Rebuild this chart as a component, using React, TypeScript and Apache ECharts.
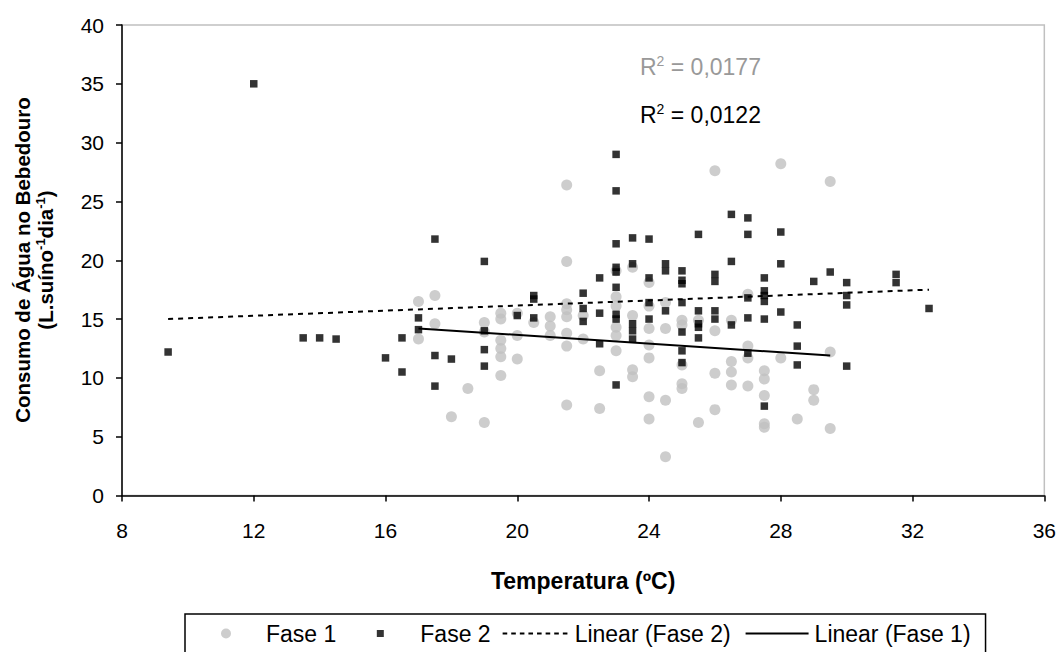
import React, { useEffect, useRef } from "react";
import * as echarts from "echarts";

// ---- data ----
const fase1Points: number[][] = [
  [17, 16.5], [17.5, 17.0], [17.5, 14.6], [17, 13.3], [19, 14.7], [19, 13.9], [19.5, 15.5], [19.5, 15.0],
  [19.5, 13.2], [19.5, 12.5], [19.5, 11.8], [19.5, 10.2], [20, 15.5], [20, 13.6], [20, 11.6], [18.5, 9.1],
  [18, 6.7], [19, 6.2], [20.5, 14.7], [21, 15.2], [21, 14.4], [21, 13.6], [21.5, 26.4], [21.5, 19.9],
  [21.5, 16.3], [21.5, 15.8], [21.5, 15.2], [21.5, 13.8], [21.5, 12.7], [21.5, 7.7], [22, 15.3], [22, 13.3],
  [22.5, 10.6], [22.5, 7.4], [23, 19.1], [23, 16.9], [23, 16.1], [23, 14.3], [23, 13.6], [23, 12.3],
  [23.5, 19.4], [23.5, 15.3], [23.5, 10.7], [23.5, 10.1], [24, 18.1], [24, 16.1], [24, 14.2], [24, 12.8],
  [24, 11.7], [24, 8.4], [24, 6.5], [24.5, 16.4], [24.5, 14.2], [24.5, 8.1], [24.5, 3.3], [25, 14.9],
  [25, 14.5], [25, 11.1], [25, 9.5], [25, 9.1], [25.5, 14.9], [25.5, 6.2], [26, 27.6], [26, 14.0],
  [26, 10.4], [26, 7.3], [26.5, 14.9], [26.5, 11.4], [26.5, 10.5], [26.5, 9.4], [27, 17.1], [27, 12.7],
  [27, 11.7], [27, 9.3], [27.5, 10.6], [27.5, 9.9], [27.5, 8.5], [27.5, 6.1], [27.5, 5.8], [28, 28.2],
  [28, 11.7], [28.5, 6.5], [29, 9.0], [29, 8.1], [29.5, 26.7], [29.5, 12.2], [29.5, 5.7],
];

const fase2Points: number[][] = [
  [9.4, 12.2], [12, 35.0], [13.5, 13.4], [14, 13.4], [14.5, 13.3], [16, 11.7], [16.5, 13.4], [16.5, 10.5],
  [17, 15.1], [17, 14.1], [17.5, 21.8], [17.5, 11.9], [17.5, 9.3], [18, 11.6], [19, 19.9], [19, 14.0],
  [19, 12.4], [19, 11.0], [20, 15.3], [20.5, 17.0], [20.5, 16.7], [20.5, 15.1], [22, 17.2], [22, 15.9],
  [22, 14.8], [22.5, 18.5], [22.5, 15.5], [22.5, 12.9], [23, 29.0], [23, 25.9], [23, 21.4], [23, 19.4],
  [23, 19.0], [23, 17.7], [23, 15.4], [23, 15.0], [23, 9.4], [23.5, 21.9], [23.5, 19.7], [23.5, 14.6],
  [23.5, 14.0], [23.5, 13.3], [24, 21.8], [24, 18.5], [24, 16.4], [24, 15.0], [24.5, 19.7], [24.5, 19.1],
  [24.5, 15.7], [25, 19.1], [25, 18.3], [25, 18.0], [25, 16.4], [25, 13.9], [25, 12.3], [25, 11.3],
  [25.5, 22.2], [25.5, 15.7], [25.5, 14.6], [25.5, 14.3], [25.5, 13.4], [26, 18.8], [26, 18.2], [26, 15.7],
  [26, 15.0], [26.5, 23.9], [26.5, 19.9], [26.5, 14.5], [27, 23.6], [27, 22.2], [27, 16.8], [27, 15.1],
  [27, 12.1], [27.5, 18.5], [27.5, 17.4], [27.5, 17.0], [27.5, 16.5], [27.5, 15.0], [27.5, 7.6], [28, 22.4],
  [28, 19.7], [28, 15.6], [28.5, 14.5], [28.5, 12.7], [28.5, 11.1], [29, 18.2], [29.5, 19.0], [30, 18.1],
  [30, 17.0], [30, 16.2], [30, 11.0], [31.5, 18.8], [31.5, 18.1], [32.5, 15.9],
];

const trendFase2X = [9.4, 32.5];
const trendFase2Y = [15.0, 17.5];
const trendFase1X = [17, 29.5];
const trendFase1Y = [14.2, 11.9];

const seriesNames = ["Fase 1", "Fase 2", "Linear (Fase 2)", "Linear (Fase 1)"];
const r2Fase1 = "0,0177";
const r2Fase2 = "0,0122";

const xAxisRange = { min: 8, max: 36, interval: 4 };
const yAxisRange = { min: 0, max: 40, interval: 5 };

const xTitle = "Temperatura (ºC)";
const yTitleLine1 = "Consumo de Água no Bebedouro";

const FONT = "'Liberation Sans', Arial, Helvetica, sans-serif";

// legend icons (70 x 10 box, drawn 1:1)
const ICON_BOX = "M0,0M70,10";
const circleIcon = "path://" + ICON_BOX + "M30,5a5,5 0 1,0 10,0a5,5 0 1,0 -10,0z";
const squareIcon = "path://" + ICON_BOX + "M31.5,1.5h7v7h-7z";
const dashedIcon =
  "path://" +
  ICON_BOX +
  [0, 1, 2, 3, 4, 5, 6, 7].map((k) => "M" + (3 + k * 8.6).toFixed(2) + ",4.1h4.6v1.8h-4.6z").join("");
const solidIcon = "path://" + ICON_BOX + "M6,4.1h63v1.9h-63z";

export default function App() {
  const ref = useRef<HTMLDivElement>(null);

  useEffect(() => {
    if (!ref.current) return;
    const chart = echarts.init(ref.current, null, { renderer: "svg" });

    const toLine = (xs: number[], ys: number[]) => xs.map((x, i) => [x, ys[i]]);

    const option: any = {
      animation: false,
      backgroundColor: "#ffffff",
      textStyle: { fontFamily: FONT },
      grid: {
        left: 122,
        right: 13,
        top: 25,
        bottom: 156.5,
        show: true,
        borderColor: "#c0c0c0",
        borderWidth: 1.5,
        backgroundColor: "transparent",
      },
      xAxis: {
        type: "value",
        min: xAxisRange.min,
        max: xAxisRange.max,
        interval: xAxisRange.interval,
        name: xTitle,
        nameLocation: "middle",
        nameGap: 74,
        nameTextStyle: { fontSize: 23, fontWeight: "bold", color: "#000", fontFamily: FONT },
        axisLine: { show: true, onZero: false, lineStyle: { color: "#000", width: 1.5 } },
        axisTick: { show: true, inside: false, length: 6, lineStyle: { color: "#000", width: 1.5 } },
        axisLabel: { fontSize: 21, color: "#000", margin: 24, fontFamily: FONT },
        splitLine: { show: false },
      },
      yAxis: {
        type: "value",
        min: yAxisRange.min,
        max: yAxisRange.max,
        interval: yAxisRange.interval,
        axisLine: { show: true, onZero: false, lineStyle: { color: "#000", width: 1.5 } },
        axisTick: { show: true, inside: false, length: 6, lineStyle: { color: "#000", width: 1.5 } },
        axisLabel: { fontSize: 21, color: "#000", margin: 18, fontFamily: FONT },
        splitLine: { show: false },
      },
      legend: {
        left: 185,
        top: 614,
        orient: "horizontal",
        itemWidth: 70,
        itemHeight: 10,
        itemGap: 9,
        symbolKeepAspect: false,
        padding: [8, 15, 10, 6],
        borderColor: "#000",
        borderWidth: 1.5,
        textStyle: { fontSize: 23, color: "#000", fontFamily: FONT },
        data: [
          { name: seriesNames[0], icon: circleIcon, itemStyle: { color: "#c0c0c0", borderWidth: 0 } },
          { name: seriesNames[1], icon: squareIcon, itemStyle: { color: "#000000", borderWidth: 0 } },
          { name: seriesNames[2], icon: dashedIcon, itemStyle: { color: "#000000", borderWidth: 0 } },
          { name: seriesNames[3], icon: solidIcon, itemStyle: { color: "#000000", borderWidth: 0 } },
        ],
      },
      graphic: [
        {
          type: "text",
          x: 34,
          y: 260,
          rotation: Math.PI / 2,
          style: {
            text: "{b|" + yTitleLine1 + "}\n{b|(L.suíno}{s|-1}{b|dia}{s|-1}{b|)}",
            align: "center",
            verticalAlign: "middle",
            fill: "#000",
            rich: {
              b: { fontSize: 20.5, fontWeight: "bold", fontFamily: FONT, lineHeight: 23, verticalAlign: "middle", fill: "#000" },
              s: { fontSize: 13, fontWeight: "bold", fontFamily: FONT, lineHeight: 23, verticalAlign: "top", fill: "#000" },
            },
          },
        },
        {
          type: "text",
          x: 640,
          y: 67,
          style: {
            text: "{a|R}{s|2}{a| = " + r2Fase1 + "}",
            align: "left",
            verticalAlign: "middle",
            rich: {
              a: { fontSize: 23, fontFamily: FONT, fill: "#999999", lineHeight: 26, verticalAlign: "middle" },
              s: { fontSize: 14, fontFamily: FONT, fill: "#999999", lineHeight: 26, verticalAlign: "top" },
            },
          },
        },
        {
          type: "text",
          x: 640,
          y: 115,
          style: {
            text: "{a|R}{s|2}{a| = " + r2Fase2 + "}",
            align: "left",
            verticalAlign: "middle",
            rich: {
              a: { fontSize: 23, fontFamily: FONT, fill: "#000000", lineHeight: 26, verticalAlign: "middle" },
              s: { fontSize: 14, fontFamily: FONT, fill: "#000000", lineHeight: 26, verticalAlign: "top" },
            },
          },
        },
      ],
      series: [
        {
          name: seriesNames[0],
          type: "scatter",
          symbol: "circle",
          symbolSize: 11,
          itemStyle: { color: "#c0c0c0" },
          data: fase1Points,
          z: 2,
        },
        {
          name: seriesNames[1],
          type: "scatter",
          symbol: "rect",
          symbolSize: 7.5,
          itemStyle: { color: "#000000" },
          data: fase2Points,
          z: 3,
        },
        {
          name: seriesNames[2],
          type: "line",
          symbol: "none",
          color: "#000",
          lineStyle: { color: "#000", width: 2, type: [5, 5] },
          data: toLine(trendFase2X, trendFase2Y),
          z: 4,
        },
        {
          name: seriesNames[3],
          type: "line",
          symbol: "none",
          color: "#000",
          lineStyle: { color: "#000", width: 2, type: "solid" },
          data: toLine(trendFase1X, trendFase1Y),
          z: 4,
        },
      ],
    };

    chart.setOption(option);
    return () => chart.dispose();
  }, []);

  return (
    <div
      ref={ref}
      style={{ position: "fixed", left: 0, top: 0, width: 1059, height: 652, background: "#fff" }}
    />
  );
}
